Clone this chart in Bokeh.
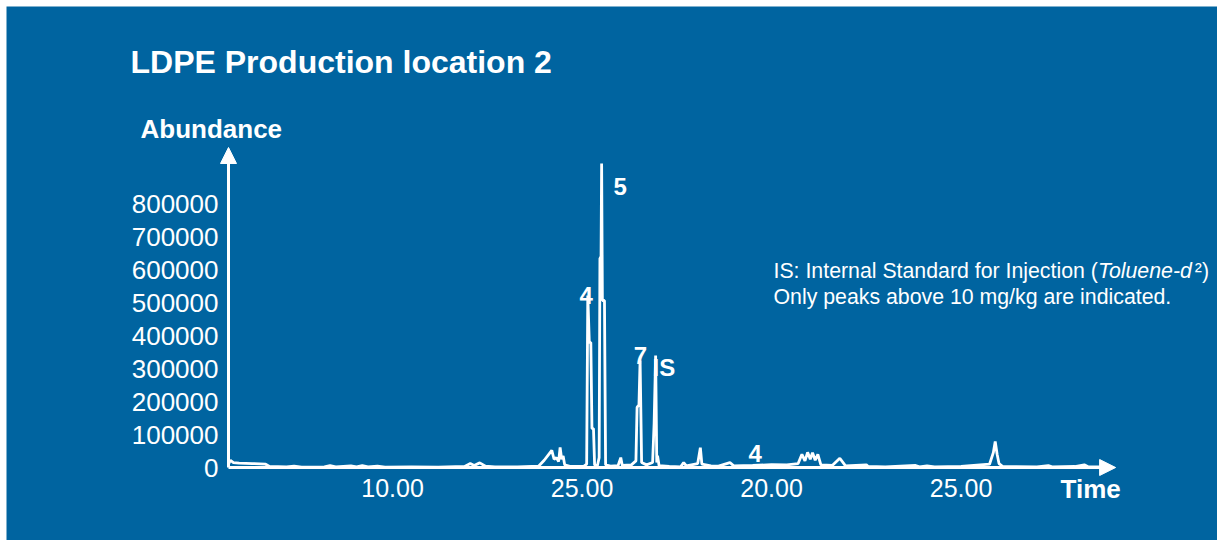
from bokeh.plotting import figure
from bokeh.models import Range1d, FixedTicker, Label, Arrow, NormalHead
from bokeh.core.properties import value
from bokeh.embed import file_html
from bokeh.resources import INLINE

# ---------------- data ----------------
times = [5.67, 5.72, 5.80, 5.95, 6.30, 6.65, 6.75, 7.20, 7.40, 7.60, 8.20, 8.35, 8.50,
         8.90, 9.05, 9.20, 9.35, 9.60, 9.80, 10.50, 11.20, 11.90, 12.05, 12.15, 12.30,
         12.45, 12.70, 13.30, 13.85, 14.00, 14.12, 14.20, 14.26, 14.32, 14.38, 14.42,
         14.46, 14.50, 14.54, 14.70, 15.05, 15.12, 15.15, 15.19, 15.23, 15.26, 15.30,
         15.33, 15.40, 15.45, 15.47, 15.50, 15.515, 15.535, 15.59, 15.62, 15.75, 15.95,
         16.02, 16.06, 16.30, 16.42, 16.45, 16.50, 16.53, 16.57, 16.70, 16.86, 16.90,
         16.94, 16.97, 16.99, 17.03, 17.30, 17.60, 17.68, 17.75, 18.05, 18.12, 18.16,
         18.40, 18.60, 18.90, 19.00, 19.50, 20.00, 20.40, 20.70, 20.80, 20.88, 20.95,
         21.02, 21.08, 21.15, 21.22, 21.30, 21.60, 21.80, 21.95, 22.50, 22.55, 23.00,
         23.80, 23.90, 24.10, 24.30, 25.00, 25.75, 25.85, 25.90, 25.95, 26.00, 26.10,
         27.00, 27.30, 27.40, 28.00, 28.25, 28.35, 28.70]
abundance = [10000, 22000, 15000, 13000, 12000, 10000, 3000, 2000, 4000, 1000, 2000, 6000, 2000,
             5000, 2000, 6000, 2000, 4000, 1000, 1500, 1000, 3000, 12000, 6000, 14000,
             4000, 2000, 1500, 4000, 22000, 40000, 52000, 25000, 30000, 18000, 61000,
             25000, 35000, 8000, 3000, 4000, 10000, 521000, 379000, 379000, 118000, 118000,
             8000, 4000, 30000, 633000, 640000, 921000, 506000, 506000, 8000, 4000, 6000,
             30000, 6000, 8000, 20000, 182000, 190000, 324000, 15000, 8000, 15000, 133000,
             339000, 15000, 36000, 6000, 3000, 2000, 15000, 5000, 12000, 60000, 10000,
             5000, 4000, 15000, 5000, 6000, 9000, 8000, 12000, 40000, 20000, 46000,
             25000, 45000, 22000, 40000, 8000, 6000, 28000, 5000, 8000, 3000, 2000,
             6000, 2000, 5000, 2000, 3000, 10000, 45000, 79000, 40000, 12000, 3000,
             2000, 6000, 2000, 3000, 8000, 2000, 2000]

y_ticks = [0, 100000, 200000, 300000, 400000, 500000, 600000, 700000, 800000]
y_tick_labels = ["0", "100000", "200000", "300000", "400000", "500000", "600000", "700000", "800000"]
x_ticks = [10, 15, 20, 25]
x_tick_labels = ["10.00", "25.00", "20.00", "25.00"]

peak_labels = ["5", "4", "7", "IS", "4"]
peak_label_times = [15.83, 14.93, 16.36, 16.86, 19.39]
peak_label_abundance = [853000, 520000, 339000, 302000, 41000]

title_text = "LDPE Production location 2"
y_title = "Abundance"
x_title = "Time"
note_1a = "IS: Internal Standard for Injection ("
note_1b = "Toluene-d"
note_1c = "\u00b2)"
note_2 = "Only peaks above 10 mg/kg are indicated."

# ---------------- layout / styling ----------------
BG = "#0064A0"
FONT = "Liberation Sans"
W, H = 1211, 534                 # canvas (page offset 6px top/left)
AXIS_T0, AXIS_T_END, ARROW_T = 5.67, 28.7, 29.077   # time axis extent
AXIS_A_END, ARROW_A = 930000, 969700                # abundance axis extent
PX_PER_MIN = 37.9
PX_PER_UNIT = 33.0 / 100000.0
ORIGIN_X, ORIGIN_Y = 222, 461    # canvas pixel of (AXIS_T0, 0)

x0 = AXIS_T0 - ORIGIN_X / PX_PER_MIN
x1 = AXIS_T0 + (W - ORIGIN_X) / PX_PER_MIN
y1 = ORIGIN_Y / PX_PER_UNIT
y0 = -(H - ORIGIN_Y) / PX_PER_UNIT

p = figure(width=W, height=H, output_backend="svg", toolbar_location=None, title=None,
           x_range=Range1d(x0, x1), y_range=Range1d(y0, y1),
           min_border=0, min_border_left=0, min_border_right=0,
           min_border_top=0, min_border_bottom=0)
p.background_fill_color = BG
p.border_fill_color = BG
p.outline_line_color = None
p.xgrid.visible = False
p.ygrid.visible = False

for ax in (p.xaxis[0], p.yaxis[0]):
    ax.axis_line_color = "white"
    ax.axis_line_width = 3
    ax.major_tick_line_color = None
    ax.minor_tick_line_color = None
    ax.major_label_text_color = "white"
    ax.major_label_text_font = FONT

p.xaxis.fixed_location = 0
p.xaxis.ticker = FixedTicker(ticks=x_ticks)
p.xaxis.major_label_overrides = {t: l for t, l in zip(x_ticks, x_tick_labels)}
p.xaxis.bounds = (AXIS_T0, AXIS_T_END)
p.xaxis.major_label_standoff = 5
p.xaxis.major_label_text_font_size = "25px"

p.yaxis.fixed_location = AXIS_T0
p.yaxis.ticker = FixedTicker(ticks=y_ticks)
p.yaxis.major_label_overrides = {t: l for t, l in zip(y_ticks, y_tick_labels)}
p.yaxis.bounds = (0, AXIS_A_END)
p.yaxis.major_label_standoff = 4
p.yaxis.major_label_text_font_size = "26px"

p.add_layout(Arrow(end=NormalHead(size=16, fill_color="white", line_color="white"),
                   x_start=28.4, y_start=0, x_end=ARROW_T, y_end=0,
                   line_color="white", line_width=3))
p.add_layout(Arrow(end=NormalHead(size=16, fill_color="white", line_color="white"),
                   x_start=AXIS_T0, y_start=880000, x_end=AXIS_T0, y_end=ARROW_A,
                   line_color="white", line_width=3))

p.line(times, abundance, line_color="white", line_width=2.8)

p.text(x=peak_label_times, y=peak_label_abundance, text=peak_labels,
       text_font=value(FONT), text_font_style="bold", text_font_size="24px",
       text_color="white", text_baseline="alphabetic", text_align="left")

def lab(px, py, text, size, style="normal"):
    # px, py: page pixel position of the text's left baseline
    p.add_layout(Label(x=px - 6, y=540 - py, x_units="screen", y_units="screen", text=text,
                       text_font=FONT, text_font_size=size, text_font_style=style,
                       text_color="white", text_baseline="alphabetic", text_align="left"))

NOTE_SIZE = 21.3
lab(130, 61, title_text, "32px", "bold")
lab(140, 128, y_title, "26px", "bold")
lab(1060, 488, x_title, "26px", "bold")
lab(773, 270, note_1a, f"{NOTE_SIZE}px")
lab(773 + 15.23 * NOTE_SIZE, 270, note_1b, f"{NOTE_SIZE}px", "italic")
lab(773 + (15.23 + 4.55) * NOTE_SIZE, 270, note_1c, f"{NOTE_SIZE}px")
lab(773, 296, note_2, f"{NOTE_SIZE}px")

html = file_html(p, INLINE)
html = html.replace("</head>", "<style>body{padding:6px 0 0 6px !important;margin:0 !important;}</style></head>", 1)
open("out.html", "w").write(html)
